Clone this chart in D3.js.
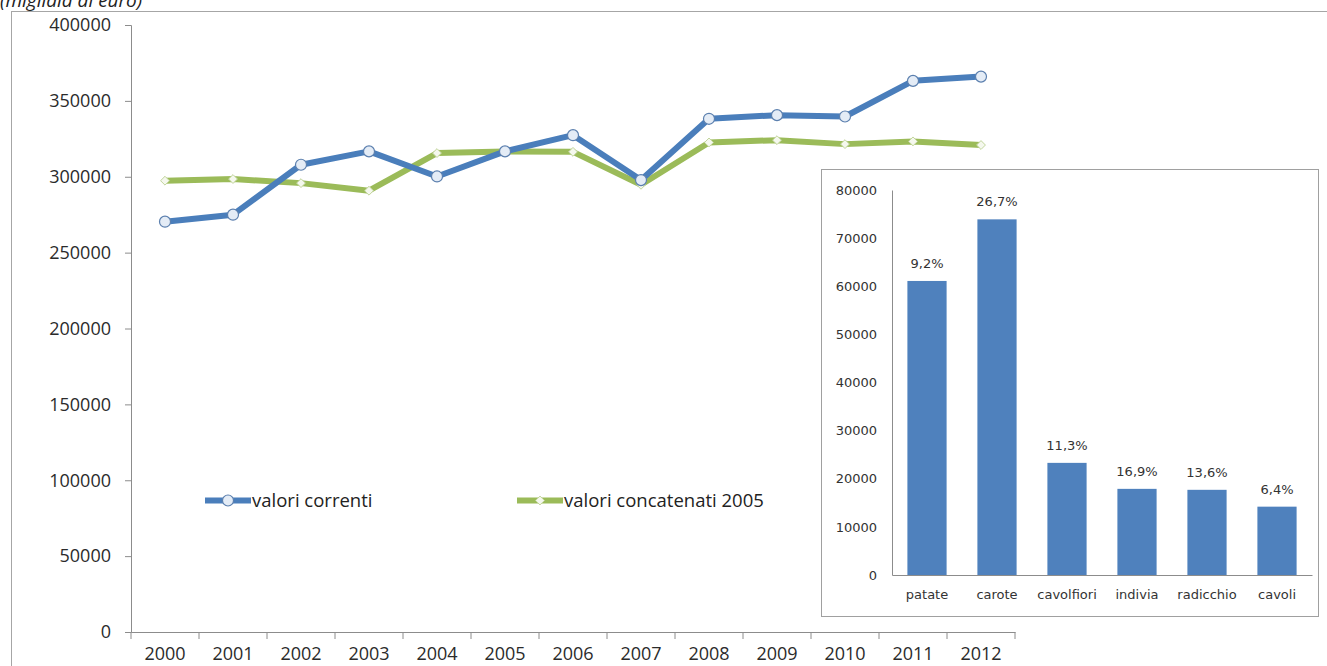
<!DOCTYPE html>
<html>
<head>
<meta charset="utf-8">
<script src="https://cdn.jsdelivr.net/npm/d3@7"></script>
<style>
    body { margin: 0; background: #fff; }
    svg { display: block; }
</style>
</head>
<body>
<svg width="1327" height="666"></svg>
<script>
// dati
var anni = ["2000", "2001", "2002", "2003", "2004", "2005", "2006",
    "2007", "2008", "2009", "2010", "2011", "2012"];
var valoriCorrenti = [270400, 275000, 307900, 316700, 300200, 316700, 327400,
    297800, 338200, 340600, 339700, 363200, 366000];
var valoriConcatenati = [297400, 298500, 295800, 290800, 315600, 316700, 316400,
    294700, 322600, 324100, 321500, 323300, 320900];
var yTicks = [0, 50000, 100000, 150000, 200000, 250000, 300000, 350000, 400000];

var prodotti = ["patate", "carote", "cavolfiori", "indivia", "radicchio", "cavoli"];
var produzione = [61100, 73900, 23300, 17900, 17700, 14200];
var quote = ["9,2%", "26,7%", "11,3%", "16,9%", "13,6%", "6,4%"];
var barTicks = [0, 10000, 20000, 30000, 40000, 50000, 60000, 70000, 80000];

var svg = d3.select("svg");
var blu = "#4a7ebb",
    verde = "#9bbb59",
    grigio = "#8c8c8c",
    fontMain = "'Open Sans', sans-serif",
    fontInset = "'DejaVu Sans', Verdana, sans-serif";

// titolo (tagliato in alto come nell'originale)
svg.append("text")
    .attr("x", 0)
    .attr("y", 7)
    .attr("font-family", fontMain)
    .attr("font-style", "italic")
    .attr("font-size", 19)
    .attr("fill", "#222")
    .text("(migliaia di euro)");

// cornice esterna
svg.append("rect")
    .attr("x", 11.5).attr("y", 11.5)
    .attr("width", 1400).attr("height", 700)
    .attr("fill", "none")
    .attr("stroke", "#a6a6a6");

// --- grafico a linee ---
var x = d3.scaleBand()
    .domain(anni)
    .range([131, 1015]);

var y = d3.scaleLinear()
    .domain([0, 400000])
    .range([632, 25]);

var gy = svg.append("g")
    .attr("transform", "translate(131,0)")
    .call(d3.axisLeft(y).tickValues(yTicks).tickSize(6).tickPadding(14)
        .tickFormat(d3.format("d")));
gy.selectAll("text").attr("font-family", fontMain).attr("font-size", 18).attr("fill", "#2b2b2b");
gy.selectAll("line, path").attr("stroke", grigio);

var gx = svg.append("g")
    .attr("transform", "translate(0,632)")
    .call(d3.axisBottom(x).tickSize(0).tickPadding(15));
gx.selectAll("text").attr("font-family", fontMain).attr("font-size", 18).attr("fill", "#2b2b2b");
gx.select(".domain").attr("stroke", grigio);

// tacche tra le categorie
var confini = anni.map(function (d) { return x(d); }).concat([x.range()[1]]);
svg.append("g").selectAll("line")
    .data(confini)
    .enter().append("line")
    .attr("x1", function (d) { return d; })
    .attr("x2", function (d) { return d; })
    .attr("y1", 632)
    .attr("y2", 639)
    .attr("stroke", grigio);

var cx = function (d, i) { return x(anni[i]) + x.bandwidth() / 2; };

var line = d3.line()
    .x(cx)
    .y(function (d) { return y(d); });

var diamante = d3.symbol().type(d3.symbolDiamond2 || d3.symbolDiamond).size(50);

svg.append("path")
    .datum(valoriConcatenati)
    .attr("d", line)
    .attr("fill", "none")
    .attr("stroke", verde)
    .attr("stroke-width", 6)
    .attr("stroke-linejoin", "round");

svg.append("path")
    .datum(valoriCorrenti)
    .attr("d", line)
    .attr("fill", "none")
    .attr("stroke", blu)
    .attr("stroke-width", 6)
    .attr("stroke-linejoin", "round");

svg.append("g").selectAll("path")
    .data(valoriConcatenati)
    .enter().append("path")
    .attr("d", diamante)
    .attr("transform", function (d, i) { return "translate(" + cx(d, i) + "," + y(d) + ")"; })
    .attr("fill", "#f5f8ee")
    .attr("stroke", "#c2d59c")
    .attr("stroke-width", 1);

svg.append("g").selectAll("circle")
    .data(valoriCorrenti)
    .enter().append("circle")
    .attr("cx", cx)
    .attr("cy", function (d) { return y(d); })
    .attr("r", 5.5)
    .attr("fill", "#e4ecf6")
    .attr("stroke", "#5b7fae")
    .attr("stroke-width", 1.2);

// legenda
var legenda = [
    {nome: "valori correnti", colore: blu, x: 205},
    {nome: "valori concatenati 2005", colore: verde, x: 517}
];
var lg = svg.append("g").selectAll("g")
    .data(legenda)
    .enter().append("g")
    .attr("transform", function (d) { return "translate(" + d.x + ",500.5)"; });
lg.append("line")
    .attr("x1", 0).attr("x2", 46)
    .attr("stroke", function (d) { return d.colore; })
    .attr("stroke-width", 6);
lg.filter(function (d, i) { return i === 0; }).append("circle")
    .attr("cx", 23).attr("r", 5.5)
    .attr("fill", "#e4ecf6").attr("stroke", "#5b7fae").attr("stroke-width", 1.2);
lg.filter(function (d, i) { return i === 1; }).append("path")
    .attr("d", diamante)
    .attr("transform", "translate(23,0)")
    .attr("fill", "#f5f8ee").attr("stroke", "#c2d59c");
lg.append("text")
    .attr("x", 47)
    .attr("dy", "0.35em")
    .attr("font-family", fontMain)
    .attr("font-size", 18.5)
    .attr("fill", "#222")
    .text(function (d) { return d.nome; });

// --- grafico a barre inserito ---
svg.append("rect")
    .attr("x", 821.5).attr("y", 169.5)
    .attr("width", 497).attr("height", 447)
    .attr("fill", "#fff")
    .attr("stroke", "#a0a0a0");

var xb = d3.scaleBand()
    .domain(prodotti)
    .range([892, 1312])
    .paddingInner(0.44)
    .paddingOuter(0.22);

var yb = d3.scaleLinear()
    .domain([0, 80000])
    .range([575, 190]);

var gyb = svg.append("g")
    .attr("transform", "translate(892,0)")
    .call(d3.axisLeft(yb).tickValues(barTicks).tickSize(0).tickPadding(15)
        .tickFormat(d3.format("d")));
gyb.selectAll("text").attr("font-family", fontInset).attr("font-size", 13).attr("fill", "#333");
gyb.select(".domain").attr("stroke", grigio);

var gxb = svg.append("g")
    .attr("transform", "translate(0,575)")
    .call(d3.axisBottom(xb).tickSize(0).tickPadding(15));
gxb.selectAll("text").attr("font-family", fontInset).attr("font-size", 13).attr("fill", "#333");
gxb.select(".domain").attr("stroke", grigio);

svg.append("g").selectAll("rect")
    .data(produzione)
    .enter().append("rect")
    .attr("x", function (d, i) { return xb(prodotti[i]); })
    .attr("y", function (d) { return yb(d); })
    .attr("width", xb.bandwidth())
    .attr("height", function (d) { return yb(0) - yb(d); })
    .attr("fill", "#4f81bd");

svg.append("g").selectAll("text")
    .data(produzione)
    .enter().append("text")
    .attr("x", function (d, i) { return xb(prodotti[i]) + xb.bandwidth() / 2; })
    .attr("y", function (d) { return yb(d) - 13; })
    .attr("text-anchor", "middle")
    .attr("font-family", fontInset)
    .attr("font-size", 13)
    .attr("fill", "#333")
    .text(function (d, i) { return quote[i]; });
</script>
</body>
</html>
